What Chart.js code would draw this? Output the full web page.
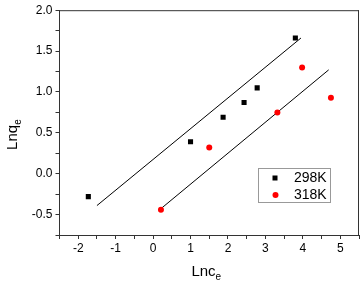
<!DOCTYPE html>
<html><head><meta charset="utf-8">
<script src="https://cdn.jsdelivr.net/npm/chart.js@4"></script>
<style>html,body{margin:0;padding:0;background:#fff}#wrap{width:363px;height:287px}</style>
</head><body><div id="wrap"><canvas id="c" width="363" height="287"></canvas></div>
<script>
const seriesNames = ["298K", "318K"];
const x298 = [-1.73, 1.00, 1.87, 2.43, 2.78, 3.80];
const y298 = [-0.28, 0.39, 0.69, 0.87, 1.05, 1.66];
const x318 = [0.21, 1.50, 3.32, 3.98, 4.75];
const y318 = [-0.44, 0.32, 0.75, 1.30, 0.93];
const fit298X = [-1.50, 3.95];
const fit298Y = [-0.39, 1.66];
const fit318X = [0.23, 4.69];
const fit318Y = [-0.42, 1.27];
const xTitle = "Lnc", xSub = "e";
const yTitle = "Lnq", ySub = "e";

const pts = (xs, ys) => xs.map((x, i) => ({x, y: ys[i]}));
const FONT = "'Liberation Sans', Arial, sans-serif";

const framePlugin = {
  id: 'frame',
  afterDraw(chart) {
    const {ctx, chartArea: a} = chart;
    ctx.save();
    ctx.strokeStyle = '#333'; ctx.lineWidth = 1;
    ctx.beginPath();
    ctx.moveTo(a.left, a.top + 0.5); ctx.lineTo(a.right, a.top + 0.5);
    ctx.moveTo(a.right - 0.5, a.top); ctx.lineTo(a.right - 0.5, a.bottom);
    ctx.stroke();
    // axis titles
    ctx.fillStyle = '#000';
    ctx.font = '15px ' + FONT;
    ctx.textBaseline = 'alphabetic';
    const w1 = ctx.measureText(xTitle).width;
    ctx.font = '10px ' + FONT;
    const w2 = ctx.measureText(xSub).width;
    const cx = (a.left + a.right) / 2 - 3;
    let sx = cx - (w1 + w2) / 2;
    ctx.font = '15px ' + FONT; ctx.textAlign = 'left';
    ctx.fillText(xTitle, sx, 276);
    ctx.font = '10px ' + FONT;
    ctx.fillText(xSub, sx + w1, 280);
    // y title rotated
    ctx.save();
    ctx.translate(17, (a.top + a.bottom) / 2 + 12);
    ctx.rotate(-Math.PI / 2);
    ctx.font = '15px ' + FONT;
    const v1 = ctx.measureText(yTitle).width;
    ctx.font = '10px ' + FONT;
    const v2 = ctx.measureText(ySub).width;
    let vx = -(v1 + v2) / 2;
    ctx.font = '15px ' + FONT;
    ctx.fillText(yTitle, vx, 0);
    ctx.font = '10px ' + FONT;
    ctx.fillText(ySub, vx + v1, 4);
    ctx.restore();
    // legend
    const lx = 258.5, ly = 168.5, lw = 72, lh = 34;
    ctx.strokeStyle = '#999';
    ctx.strokeRect(lx, ly, lw, lh);
    ctx.fillStyle = '#000';
    ctx.fillRect(275 - 2.5, 178 - 2.5, 5, 5);
    ctx.fillStyle = '#ff0000';
    ctx.beginPath(); ctx.arc(275.5, 195, 3, 0, Math.PI * 2); ctx.fill();
    ctx.fillStyle = '#000';
    ctx.font = '14px ' + FONT;
    ctx.textBaseline = 'middle';
    ctx.fillText(seriesNames[0], 294, 178.5);
    ctx.fillText(seriesNames[1], 294, 195.5);
    ctx.restore();
  }
};

new Chart(document.getElementById('c'), {
  type: 'scatter',
  data: {
    datasets: [
      {label: seriesNames[0], data: pts(x298, y298), pointStyle: 'rect', pointRadius: 3.6, backgroundColor: '#000', borderColor: '#000', borderWidth: 0},
      {label: seriesNames[1], data: pts(x318, y318), pointStyle: 'circle', pointRadius: 3, backgroundColor: '#ff0000', borderColor: '#ff0000', borderWidth: 0},
      {label: 'fit298', type: 'line', data: pts(fit298X, fit298Y), borderColor: '#000', borderWidth: 1, pointRadius: 0, fill: false},
      {label: 'fit318', type: 'line', data: pts(fit318X, fit318Y), borderColor: '#000', borderWidth: 1, pointRadius: 0, fill: false}
    ]
  },
  options: {
    responsive: false,
    animation: false,
    layout: {padding: {top: 10, right: 1, left: 0, bottom: 0}},
    plugins: {legend: {display: false}, tooltip: {enabled: false}},
    scales: {
      x: {
        type: 'linear', min: -2.5, max: 5.5,
        afterFit(s) { s.height = 52; },
        border: {display: true, color: '#333', width: 1},
        grid: {drawOnChartArea: false, drawTicks: true, tickLength: 4, color: '#333'},
        ticks: {stepSize: 0.5, autoSkip: false, maxRotation: 0, color: '#000', font: {size: 12, family: FONT}, padding: 2,
          callback: v => Number.isInteger(v) ? String(v) : ''}
      },
      y: {
        type: 'linear', min: -0.75, max: 2.0,
        afterFit(s) { s.width = 59.5; },
        border: {display: true, color: '#333', width: 1},
        grid: {drawOnChartArea: false, drawTicks: true, tickLength: 4, color: '#333'},
        ticks: {stepSize: 0.25, autoSkip: false, color: '#000', font: {size: 12, family: FONT}, padding: 3,
          callback: v => (Math.abs(v * 2 - Math.round(v * 2)) < 1e-9) ? v.toFixed(1) : ''}
      }
    }
  },
  plugins: [framePlugin]
});
</script></body></html>
